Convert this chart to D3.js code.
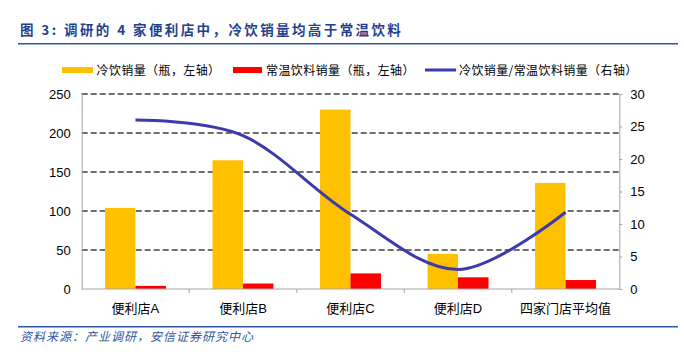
<!DOCTYPE html>
<html>
<head>
<meta charset="utf-8">
<script src="https://cdn.jsdelivr.net/npm/d3@7"></script>
<style>
  html, body { margin: 0; padding: 0; background: #fff; }
  svg { display: block; }
</style>
</head>
<body>
<div id="chart"></div>
<script>
var categories = ["便利店A", "便利店B", "便利店C", "便利店D", "四家门店平均值"];
var coldSales = [104, 165, 230, 45, 136];
var roomSales = [4, 7, 20, 15, 11.5];
var ratio = [26, 23.6, 11.5, 3.0, 11.8];
var leftTicks = [0, 50, 100, 150, 200, 250];
var rightTicks = [0, 5, 10, 15, 20, 25, 30];
var seriesNames = ["冷饮销量（瓶，左轴）", "常温饮料销量（瓶，左轴）", "冷饮销量/常温饮料销量（右轴）"];

var W = 684, H = 358;
var plot = { left: 81.7, right: 619.3, top: 94, bottom: 289 };
var font = "'Liberation Sans', Arial, 'Noto Sans CJK SC', sans-serif";
var cjk = "'Noto Sans CJK SC', 'Liberation Sans', sans-serif";
var yellow = "#FFC000", red = "#FF0000", blue = "#3B3BAE", navy = "#1F3F8F";

var svg = d3.select("#chart").append("svg")
  .attr("width", W)
  .attr("height", H);

// title
svg.append("text")
  .attr("x", 20)
  .attr("y", 35)
  .attr("fill", navy)
  .attr("font-family", cjk)
  .attr("font-weight", "bold")
  .attr("font-size", "13.5px")
  .attr("letter-spacing", "2.4px")
  .text("图 3: 调研的 4 家便利店中，冷饮销量均高于常温饮料");

svg.append("line")
  .attr("x1", 18).attr("x2", 678)
  .attr("y1", 43.7).attr("y2", 43.7)
  .attr("stroke", "#2F55A0")
  .attr("stroke-width", 1.5);

// scales
var x = d3.scaleBand().domain(categories).range([plot.left, plot.right]);
var barW = x.bandwidth() * 0.2835;
var x1 = d3.scaleBand().domain([0, 1])
  .range([x.bandwidth() / 2 - barW, x.bandwidth() / 2 + barW]);
var yL = d3.scaleLinear().domain([0, 250]).range([plot.bottom, plot.top]);
var yR = d3.scaleLinear().domain([0, 30]).range([plot.bottom, plot.top]);

// gridlines
svg.append("g")
  .selectAll("line")
  .data(leftTicks.filter(function (d) { return d > 0; }))
  .enter()
  .append("line")
  .attr("x1", plot.left).attr("x2", plot.right)
  .attr("y1", function (d) { return yL(d); })
  .attr("y2", function (d) { return yL(d); })
  .attr("stroke", "#404040")
  .attr("stroke-width", 1.5)
  .attr("stroke-dasharray", "6,3");

// left axis
var gL = svg.append("g")
  .attr("transform", "translate(" + plot.left + ",0)")
  .call(d3.axisLeft(yL).tickValues(leftTicks).tickSize(0).tickPadding(11));
gL.select(".domain").attr("stroke", "#A6A6A6");
gL.selectAll("text")
  .attr("font-family", font)
  .attr("font-size", "13px")
  .attr("fill", "#000");

// right axis
var gR = svg.append("g")
  .attr("transform", "translate(" + plot.right + ",0)")
  .call(d3.axisRight(yR).tickValues(rightTicks).tickSize(3).tickPadding(8));
gR.select(".domain").attr("stroke", "#A6A6A6");
gR.selectAll(".tick line").attr("stroke", "#A6A6A6");
gR.selectAll("text")
  .attr("font-family", font)
  .attr("font-size", "13px")
  .attr("fill", "#000");

// bars
var groups = svg.append("g")
  .selectAll("g")
  .data(categories)
  .enter()
  .append("g")
  .attr("transform", function (d) { return "translate(" + x(d) + ",0)"; });

groups.append("rect")
  .attr("x", x1(0))
  .attr("width", x1.bandwidth())
  .attr("y", function (d, i) { return yL(coldSales[i]); })
  .attr("height", function (d, i) { return yL(0) - yL(coldSales[i]); })
  .attr("fill", yellow);

groups.append("rect")
  .attr("x", x1(1))
  .attr("width", x1.bandwidth())
  .attr("y", function (d, i) { return yL(roomSales[i]); })
  .attr("height", function (d, i) { return yL(0) - yL(roomSales[i]); })
  .attr("fill", red);

// bottom axis
var gB = svg.append("g")
  .attr("transform", "translate(0," + plot.bottom + ")");
gB.append("line")
  .attr("x1", plot.left).attr("x2", plot.right)
  .attr("stroke", "#A6A6A6");
gB.selectAll("line.tk")
  .data(categories.slice(1))
  .enter()
  .append("line")
  .attr("class", "tk")
  .attr("x1", function (d) { return x(d); })
  .attr("x2", function (d) { return x(d); })
  .attr("y1", 0).attr("y2", 4)
  .attr("stroke", "#A6A6A6");
gB.selectAll("text")
  .data(categories)
  .enter()
  .append("text")
  .attr("x", function (d) { return x(d) + x.bandwidth() / 2; })
  .attr("y", 24)
  .attr("text-anchor", "middle")
  .attr("font-family", font)
  .attr("font-size", "13px")
  .attr("fill", "#000")
  .text(function (d) { return d; });

// ratio line
var line = d3.line()
  .x(function (d, i) { return x(categories[i]) + x.bandwidth() / 2; })
  .y(function (d) { return yR(d); })
  .curve(d3.curveCatmullRom.alpha(0));

svg.append("path")
  .datum(ratio)
  .attr("d", line)
  .attr("fill", "none")
  .attr("stroke", blue)
  .attr("stroke-width", 3);

// legend
var legend = [
  { x: 62, w: 31, h: 6, color: yellow, tx: 96.5 },
  { x: 233, w: 29, h: 6, color: red, tx: 266 },
  { x: 425, w: 31, h: 3, color: blue, tx: 459 }
];
var lg = svg.append("g")
  .selectAll("g")
  .data(legend)
  .enter()
  .append("g");
lg.append("rect")
  .attr("x", function (d) { return d.x; })
  .attr("y", function (d) { return 70 - d.h / 2; })
  .attr("width", function (d) { return d.w; })
  .attr("height", function (d) { return d.h; })
  .attr("fill", function (d) { return d.color; });
lg.append("text")
  .attr("x", function (d) { return d.tx; })
  .attr("y", 74.5)
  .attr("font-family", cjk)
  .attr("font-size", "12px")
  .attr("letter-spacing", "0.4px")
  .attr("fill", "#000")
  .text(function (d, i) { return seriesNames[i]; });

// source
svg.append("line")
  .attr("x1", 18).attr("x2", 678)
  .attr("y1", 326.7).attr("y2", 326.7)
  .attr("stroke", "#2F55A0")
  .attr("stroke-width", 1.5);

svg.append("text")
  .attr("x", 20)
  .attr("y", 341)
  .attr("fill", "#2F55A0")
  .attr("font-family", cjk)
  .attr("font-style", "italic")
  .attr("font-size", "12px")
  .attr("letter-spacing", "1px")
  .text("资料来源：产业调研，安信证券研究中心");
</script>
</body>
</html>
